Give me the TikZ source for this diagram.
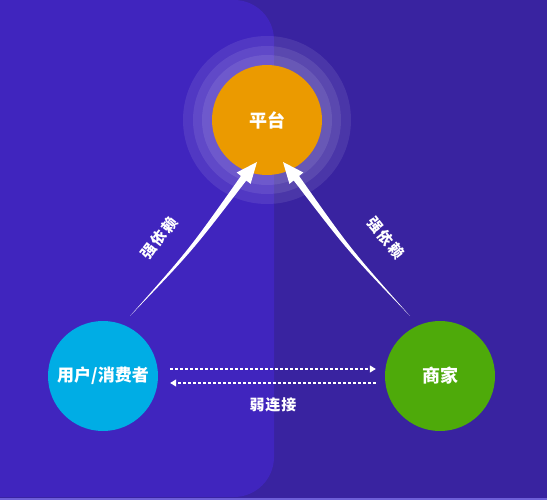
\documentclass[tikz,border=0pt]{standalone}
\usepackage{fontspec}
\setmainfont{Noto Sans CJK SC}
\usetikzlibrary{calc,arrows.meta}
\definecolor{bgdark}{HTML}{3923A0}
\definecolor{bglight}{HTML}{4025BE}
\definecolor{edgeline}{HTML}{6E5FD8}
\definecolor{platorange}{HTML}{EB9A00}
\definecolor{usercyan}{HTML}{00ADE5}
\definecolor{mercgreen}{HTML}{4EAA0A}
\begin{document}
\begin{tikzpicture}[x=1pt,y=-1pt]
        \tikzstyle{party}=[circle, inner sep=0pt, minimum size=110pt, text=white, font=\fontsize{17}{17}\selectfont\bfseries]
        \tikzstyle{ring}=[fill=white, fill opacity=0.09]
        \tikzstyle{linklabel}=[text=white, inner sep=1pt, font=\fontsize{15}{15}\selectfont\bfseries]
        \tikzstyle{weaklink}=[white, line width=1.2pt, dash pattern=on 3pt off 2pt, -{Triangle[length=6pt,width=7pt]}]
        \useasboundingbox (0,0) rectangle (547,500);
        % background
        \fill[bgdark] (0,0) rectangle (547,500);
        \fill[bglight, rounded corners=40pt] (-60,0) rectangle (274,497);
        \fill[edgeline] (0,497.5) rectangle (547,500);
        % halo round the platform
        \fill[ring] (267,120) circle (84pt);
        \fill[ring] (267,120) circle (74pt);
        \fill[ring] (267,120) circle (65pt);
        \node[party, fill=platorange, font=\fontsize{18}{18}\selectfont\bfseries] (plat) at (267,120) {平台};
        \node[party, fill=usercyan] (user) at (103,376) {用户/消费者};
        \node[party, fill=mercgreen, font=\fontsize{18}{18}\selectfont\bfseries] (merc) at (440,376) {商家};
        % strong dependence
        \coordinate (tailL) at ($(user.center)+(27,-60)$);
        \coordinate (tipL) at ($(plat.center)+(-10,42)$);
        \coordinate (baseL) at ($(tipL)!21pt!(tailL)$);
        \coordinate (aL) at ($(baseL)!3.5pt!90:(tipL)$);
        \coordinate (bL) at ($(baseL)!3.5pt!-90:(tipL)$);
        \coordinate (tailR) at ($(merc.center)+(-30,-60)$);
        \coordinate (tipR) at ($(plat.center)+(16,42)$);
        \coordinate (baseR) at ($(tipR)!21pt!(tailR)$);
        \coordinate (aR) at ($(baseR)!3.5pt!90:(tipR)$);
        \coordinate (bR) at ($(baseR)!3.5pt!-90:(tipR)$);
        \fill[white] (tailL) .. controls ($(tailL)!0.5!(aL)!5pt!-90:(aL)$) .. (aL)
            -- ($(baseL)!9pt!90:(tipL)$) -- (tipL) -- ($(baseL)!9pt!-90:(tipL)$) -- (bL)
            .. controls ($(tailL)!0.5!(bL)!5pt!-90:(bL)$) .. (tailL) -- cycle;
        \fill[white] (tailR) .. controls ($(tailR)!0.5!(aR)!5pt!90:(aR)$) .. (aR)
            -- ($(baseR)!9pt!90:(tipR)$) -- (tipR) -- ($(baseR)!9pt!-90:(tipR)$) -- (bR)
            .. controls ($(tailR)!0.5!(bR)!5pt!90:(bR)$) .. (tailR) -- cycle;
        \node[linklabel, rotate=52] (strongL) at (159,238) {强\hspace{2pt}依\hspace{2pt}赖};
        \node[linklabel, rotate=-52] (strongR) at (386,238) {强\hspace{2pt}依\hspace{2pt}赖};
        % weak connection
        \draw[weaklink] ($(user.east)+(12,-7)$) -- ($(merc.west)+(-9,-7)$);
        \draw[weaklink] ($(merc.west)+(-9,7)$) -- ($(user.east)+(12,7)$);
        \node[linklabel] (weak) at (273,405) {弱\hspace{1pt}连\hspace{1pt}接};
    \end{tikzpicture}
\end{document}
